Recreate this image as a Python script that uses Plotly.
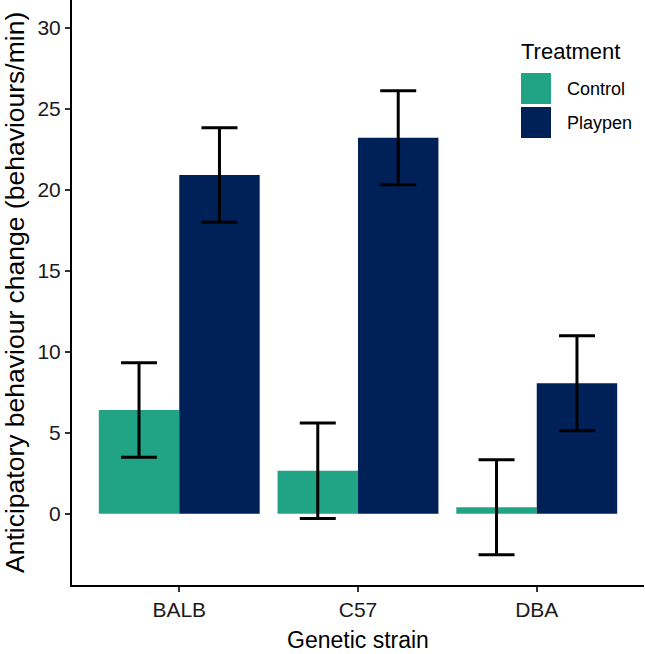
import plotly.graph_objects as go

# ---- data ----
strains = ["BALB", "C57", "DBA"]
treatments = ["Control", "Playpen"]
control_mean = [6.4, 2.65, 0.4]
control_err = [2.92, 2.95, 2.93]
playpen_mean = [20.9, 23.2, 8.05]
playpen_err = [2.92, 2.9, 2.93]
y_ticks = [0, 5, 10, 15, 20, 25, 30]

colors = {"Control": "#21A386", "Playpen": "#002157"}

fig = go.Figure()
for name, means, errs in [("Control", control_mean, control_err),
                          ("Playpen", playpen_mean, playpen_err)]:
    fig.add_trace(go.Bar(
        x=strains, y=means, name=name,
        marker=dict(color=colors[name], line=dict(width=0)),
        error_y=dict(type="data", array=errs, visible=True,
                     color="black", thickness=3, width=18),
        showlegend=False,
    ))

W, H = 645, 654
L, R, T, B = 72, 1, 0, 69
pw, ph = W - L - R, H - T - B

def px(x):
    return (x - L) / pw

def py(y):
    return 1 - (y - T) / ph

font = "Liberation Sans, Arial, sans-serif"

annotations = [
    dict(text="Genetic strain", x=px(358), y=py(640), xref="paper", yref="paper",
         xanchor="center", yanchor="middle", showarrow=False,
         font=dict(size=23, color="black", family=font)),
    dict(text="Anticipatory behaviour change (behaviours/min)", x=px(15), y=py(293),
         xref="paper", yref="paper", xanchor="center", yanchor="middle",
         textangle=-90, showarrow=False,
         font=dict(size=26.5, color="black", family=font)),
    dict(text="Treatment", x=px(519), y=py(51), xref="paper", yref="paper",
         xanchor="left", yanchor="middle", showarrow=False,
         font=dict(size=22, color="black", family=font)),
]
shapes = []
for i, name in enumerate(treatments):
    top = 73 + i * 34
    shapes.append(dict(type="rect", xref="paper", yref="paper",
                       x0=px(521), x1=px(551), y0=py(top), y1=py(top + 31),
                       fillcolor=colors[name], line=dict(width=0)))
    annotations.append(dict(text=name, x=px(565), y=py(top + 15.5), xref="paper",
                            yref="paper", xanchor="left", yanchor="middle",
                            showarrow=False,
                            font=dict(size=18, color="black", family=font)))

fig.update_layout(
    width=W, height=H,
    margin=dict(l=L, r=R, t=T, b=B, autoexpand=False),
    paper_bgcolor="white", plot_bgcolor="white",
    barmode="group", bargap=0.1, bargroupgap=0,
    font=dict(family=font, color="black"),
    annotations=annotations, shapes=shapes,
    showlegend=False,
)
fig.update_xaxes(
    range=[-0.6, 2.6], showline=True, linewidth=2, linecolor="black",
    ticks="outside", ticklen=5, tickwidth=1.5, tickcolor="#333333",
    tickfont=dict(size=21, color="#1a1a1a", family=font),
    showgrid=False, zeroline=False,
)
fig.update_yaxes(
    range=[-4.4, 31.7], tickvals=y_ticks, showline=True, linewidth=2,
    linecolor="black", ticks="outside", ticklen=5, tickwidth=1.5,
    tickcolor="#333333", tickfont=dict(size=21, color="#1a1a1a", family=font),
    showgrid=False, zeroline=False,
)

fig.write_html("out.html", config={"displayModeBar": False},
               post_script="document.body.style.margin='0';document.body.style.overflow='hidden';")
